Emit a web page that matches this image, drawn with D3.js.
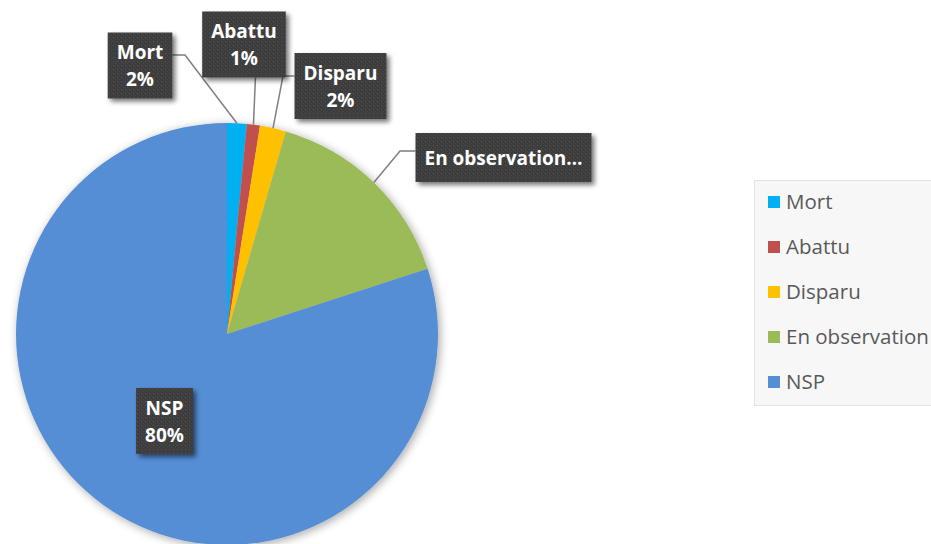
<!DOCTYPE html>
<html>
<head>
<meta charset="utf-8">
<script src="https://cdn.jsdelivr.net/npm/d3@7"></script>
<style>
  html, body { margin: 0; padding: 0; background: #fff; }
  svg { display: block; }
</style>
</head>
<body>
<svg id="chart" width="931" height="544"></svg>
<script>
// Devenir des animaux (effectifs)
const categories = ["Mort", "Abattu", "Disparu", "En observation", "NSP"];
const counts = [3, 2, 4, 31, 160];
const colors = ["#00b0f0", "#c0504d", "#ffc000", "#9bbb59", "#558ed5"];

// Label placement: box centre, optional elbow for the leader line, shown text
const labelLayout = {
  "Mort":           { cx: 140, cy: 65.5, elbow: [185, 55], edge: "right" },
  "Abattu":         { cx: 244, cy: 44.5, elbow: null,      edge: "bottom" },
  "Disparu":        { cx: 340.5, cy: 86, elbow: [283, 76], edge: "left" },
  "En observation": { cx: 503.5, cy: 157.5, elbow: [400, 151], edge: "left", text: ["En observation…"] },
  "NSP":            { cx: 164.5, cy: 421, elbow: null,     edge: null }
};

const data = categories.map((c, i) => ({ name: c, value: counts[i], color: colors[i] }));
const total = d3.sum(counts);
const pctFmt = v => Math.round(v / total * 100) + "%";

const svg = d3.select("#chart");
const defs = svg.append("defs");

// soft halo around the pie
const pieShadow = defs.append("filter").attr("id", "pieShadow")
  .attr("x", "-20%").attr("y", "-20%").attr("width", "140%").attr("height", "140%");
pieShadow.append("feGaussianBlur").attr("in", "SourceAlpha").attr("stdDeviation", 5).attr("result", "b");
pieShadow.append("feOffset").attr("in", "b").attr("dx", 2).attr("dy", 2).attr("result", "o");
pieShadow.append("feComponentTransfer").attr("in", "o").attr("result", "s")
  .append("feFuncA").attr("type", "linear").attr("slope", 0.35);
const m1 = pieShadow.append("feMerge");
m1.append("feMergeNode").attr("in", "s");
m1.append("feMergeNode").attr("in", "SourceGraphic");

// drop shadow under the label boxes
const boxShadow = defs.append("filter").attr("id", "boxShadow")
  .attr("x", "-30%").attr("y", "-30%").attr("width", "160%").attr("height", "160%");
boxShadow.append("feGaussianBlur").attr("in", "SourceAlpha").attr("stdDeviation", 2.5).attr("result", "b");
boxShadow.append("feOffset").attr("in", "b").attr("dx", 3).attr("dy", 3).attr("result", "o");
boxShadow.append("feComponentTransfer").attr("in", "o").attr("result", "s")
  .append("feFuncA").attr("type", "linear").attr("slope", 0.55);
const m2 = boxShadow.append("feMerge");
m2.append("feMergeNode").attr("in", "s");
m2.append("feMergeNode").attr("in", "SourceGraphic");

// fine dotted texture of the label boxes
const pat = defs.append("pattern").attr("id", "dots")
  .attr("width", 4).attr("height", 4).attr("patternUnits", "userSpaceOnUse");
pat.append("rect").attr("width", 4).attr("height", 4).attr("fill", "#3c3c3c");
pat.append("rect").attr("x", 1).attr("y", 1).attr("width", 1).attr("height", 1).attr("fill", "#565656");
pat.append("rect").attr("x", 3).attr("y", 3).attr("width", 1).attr("height", 1).attr("fill", "#4a4a4a");

const cx = 227, cy = 334, R = 211;

const pie = d3.pie().value(d => d.value).sort(null);
const arc = d3.arc().innerRadius(0).outerRadius(R);
const arcs = pie(data);

const g = svg.append("g").attr("transform", `translate(${cx},${cy})`);
g.append("g").attr("filter", "url(#pieShadow)")
  .selectAll("path").data(arcs).join("path")
  .attr("d", arc)
  .attr("fill", d => d.data.color)
  .attr("stroke", "none");

// leader lines and label boxes
const labelsG = svg.append("g");
arcs.forEach(a => {
  const L = labelLayout[a.data.name];
  const lines = L.text ? L.text : [a.data.name, pctFmt(a.data.value)];
  const grp = labelsG.append("g");

  const t = grp.append("text")
    .attr("font-family", "'Open Sans', 'DejaVu Sans', sans-serif")
    .attr("font-weight", 700)
    .attr("font-size", 19)
    .attr("fill", "#ffffff")
    .attr("text-anchor", "middle");
  const lh = 27;
  lines.forEach((s, i) => {
    t.append("tspan").attr("x", L.cx)
      .attr("y", L.cy + (i - (lines.length - 1) / 2) * lh + 7)
      .text(s);
  });
  const bb = t.node().getBBox();
  const padX = 9;
  const bx = L.cx - bb.width / 2 - padX, bw = bb.width + 2 * padX;
  const bh = lines.length > 1 ? 66 : 49;
  const by = L.cy - bh / 2;

  // leader
  if (L.edge) {
    const mid = (a.startAngle + a.endAngle) / 2;
    const px = cx + R * Math.sin(mid), py = cy - R * Math.cos(mid);
    let pts;
    if (L.edge === "bottom") pts = [[px, py], [px + 2, by + bh]];
    else if (L.edge === "right") pts = [[px, py], L.elbow, [bx + bw, L.elbow[1]]];
    else pts = [[px, py], L.elbow, [bx, L.elbow[1]]];
    labelsG.insert("path", ":first-child")
      .attr("d", d3.line()(pts))
      .attr("fill", "none").attr("stroke", "#7f7f7f").attr("stroke-width", 1.5);
  }

  grp.insert("rect", "text")
    .attr("x", bx).attr("y", by).attr("width", bw).attr("height", bh)
    .attr("fill", "url(#dots)")
    .attr("filter", "url(#boxShadow)");
});

// legend
const lg = svg.append("g");
lg.append("rect").attr("x", 754.5).attr("y", 180.5).attr("width", 190).attr("height", 225)
  .attr("fill", "#f7f7f7").attr("stroke", "#e3e3e3").attr("stroke-width", 1);
const rowY = d3.scalePoint().domain(categories).range([202, 382]);
categories.forEach((c, i) => {
  const y = rowY(c);
  lg.append("rect").attr("x", 768).attr("y", y - 6).attr("width", 12).attr("height", 12).attr("fill", colors[i]);
  lg.append("text").attr("x", 786).attr("y", y + 7)
    .attr("font-family", "'Open Sans', 'DejaVu Sans', sans-serif")
    .attr("font-size", 20.5).attr("fill", "#595959")
    .text(c);
});
</script>
</body>
</html>
